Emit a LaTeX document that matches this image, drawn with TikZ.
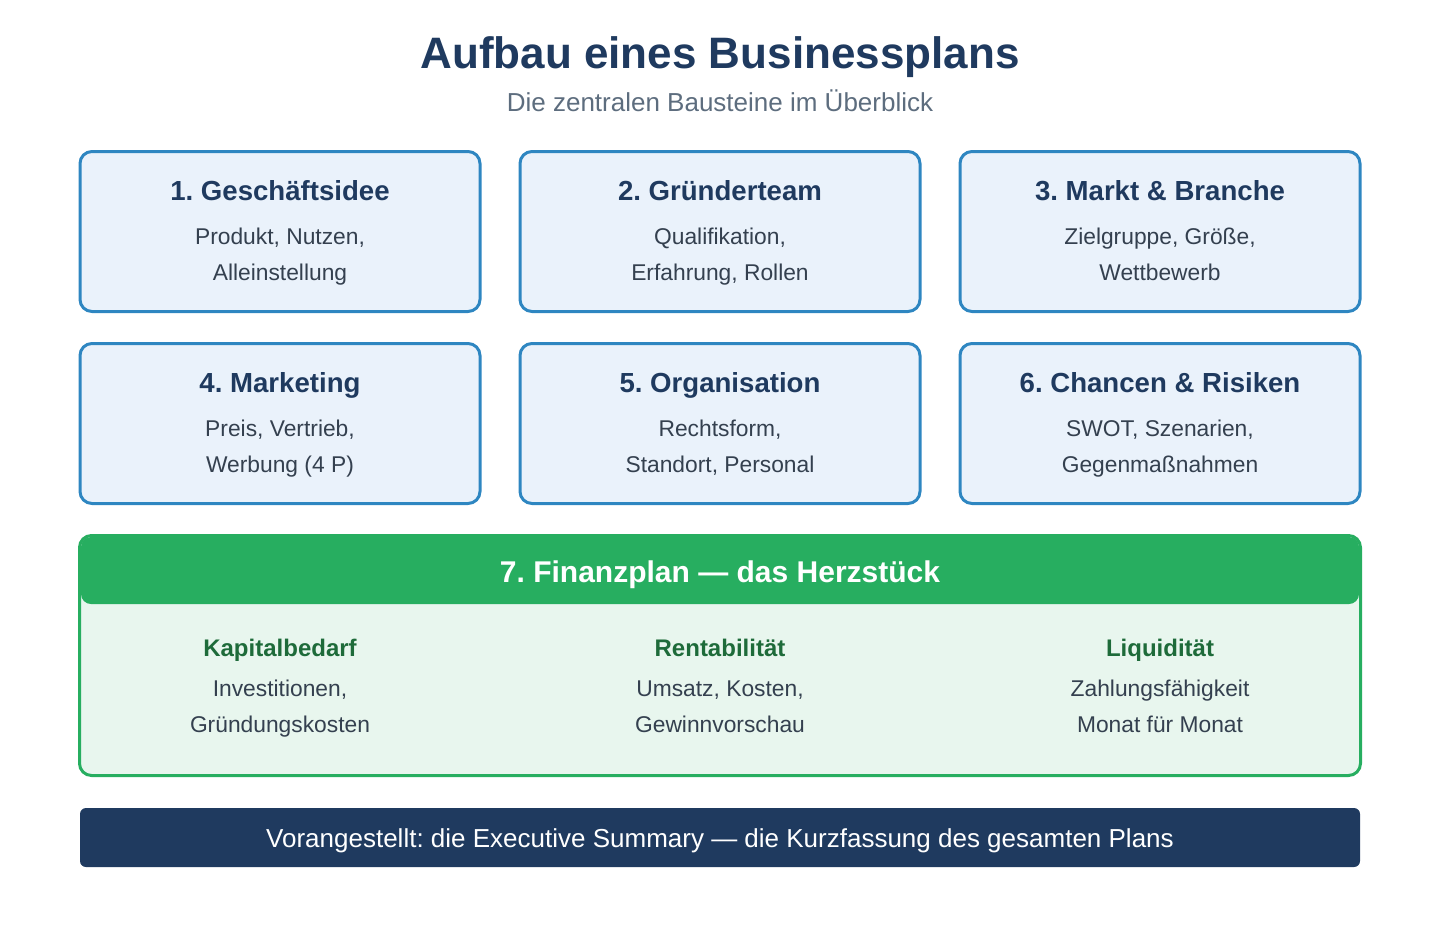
\documentclass[tikz,border=0pt]{standalone}
\usepackage{fontspec}
\setmainfont{Liberation Sans}
\usetikzlibrary{positioning}
\definecolor{planNavy}{RGB}{31,58,95}
\definecolor{planBlue}{RGB}{46,134,193}
\definecolor{planBlueLight}{RGB}{234,242,251}
\definecolor{planGrey}{RGB}{93,109,126}
\definecolor{planText}{RGB}{52,64,79}
\definecolor{planGreen}{RGB}{39,174,96}
\definecolor{planGreenLight}{RGB}{232,246,238}
\definecolor{planGreenDark}{RGB}{30,107,58}
\newcommand{\PxFont}[1]{\fontsize{#1}{36}\selectfont}
\frenchspacing

\begin{document}
\begin{tikzpicture}[x=1pt,y=-1pt,
  baustein/.style={draw=planBlue,fill=planBlueLight,line width=3pt,rounded corners=12pt,
    minimum width=400pt,minimum height=160pt,inner sep=0pt},
  kopf/.style={anchor=base,text=planNavy,font=\PxFont{27.6}\bfseries},
  zeilen/.style={anchor=base,text=planText,align=center,font=\PxFont{22.8}},
  spalte/.style={anchor=base,text=planGreenDark,font=\PxFont{24}\bfseries}]
\useasboundingbox (0,0) rectangle (1440,940);

% Titel
\node[anchor=base,text=planNavy,font=\PxFont{44}\bfseries] (titel) at (720,68) {Aufbau eines Businessplans};
\node[anchor=base,text=planGrey,font=\PxFont{26}] (untertitel) at (720,111) {Die zentralen Bausteine im Überblick};

% Bausteine 1--6
\foreach \nr/\x/\y/\titel/\inhalt in {
  1/280/0/{1. Geschäftsidee}/{Produkt, Nutzen,\\Alleinstellung},
  2/720/0/{2. Gründerteam}/{Qualifikation,\\Erfahrung, Rollen},
  3/1160/0/{3. Markt \& Branche}/{Zielgruppe, Größe,\\Wettbewerb},
  4/280/192/{4. Marketing}/{Preis, Vertrieb,\\Werbung (4 P)},
  5/720/192/{5. Organisation}/{Rechtsform,\\Standort, Personal},
  6/1160/192/{6. Chancen \& Risiken}/{SWOT, Szenarien,\\Gegenmaßnahmen}}{
  \node[baustein] (box\nr) at (\x,231.5+\y) {};
  \node[kopf] (box\nr-titel) at (\x,200+\y) {\titel};
  \node[zeilen] (box\nr-text) at (\x,280+\y) {\inhalt};
}

% Finanzplan
\node[draw=planGreen,fill=planGreenLight,line width=3pt,rounded corners=12pt,
  minimum width=1281pt,minimum height=240pt,inner sep=0pt] (fin) at (720,655.5) {};
\node[fill=planGreen,rounded corners=10pt,minimum width=1278pt,minimum height=67pt,inner sep=0pt] (finKopf) at (720,570.5) {};
\node[anchor=base,text=white,font=\PxFont{30}\bfseries] (finTitel) at (720,582) {7. Finanzplan --- das Herzstück};

\node[spalte] (kapital) at (280,656) {Kapitalbedarf};
\node[zeilen] (kapitalText) at (280,732) {Investitionen,\\Gründungskosten};
\node[spalte] (rent) at (720,656) {Rentabilität};
\node[zeilen] (rentText) at (720,732) {Umsatz, Kosten,\\Gewinnvorschau};
\node[spalte] (liqui) at (1160,656) {Liquidität};
\node[zeilen] (liquiText) at (1160,732) {Zahlungsfähigkeit\\Monat für Monat};

% Executive Summary
\node[fill=planNavy,rounded corners=6pt,minimum width=1280pt,minimum height=59pt,inner sep=0pt] (summary) at (720,837.5) {};
\node[anchor=base,text=white,font=\PxFont{26}] (summaryText) at (720,847) {Vorangestellt: die Executive Summary --- die Kurzfassung des gesamten Plans};
\end{tikzpicture}
\end{document}
